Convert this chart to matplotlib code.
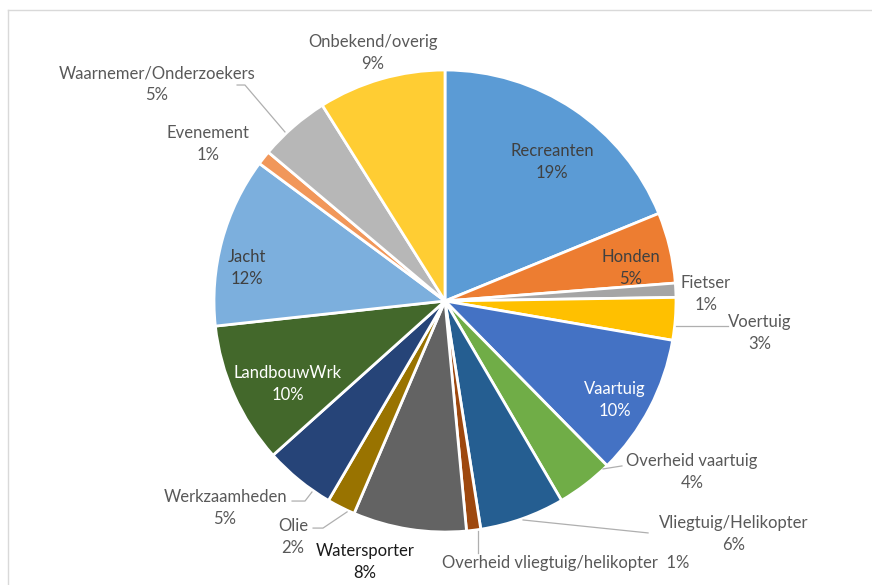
import matplotlib.pyplot as plt
from matplotlib.lines import Line2D

# Meldingen per categorie (percentages)
categories = [
    "Recreanten", "Honden", "Fietser", "Voertuig", "Vaartuig",
    "Overheid vaartuig", "Vliegtuig/Helikopter", "Overheid vliegtuig/helikopter",
    "Watersporter", "Olie", "Werkzaamheden", "LandbouwWrk", "Jacht",
    "Evenement", "Waarnemer/Onderzoekers", "Onbekend/overig",
]
percentages = [19, 5, 1, 3, 10, 4, 6, 1, 8, 2, 5, 10, 12, 1, 5, 9]

colors = [
    "#5B9BD5", "#ED7D31", "#A5A5A5", "#FFC000", "#4472C4",
    "#70AD47", "#255E91", "#9E480E", "#636363", "#997300",
    "#264478", "#43682B", "#7CAFDD", "#F1975A", "#B7B7B7", "#FFCD33",
]
text_colors = [
    "#404040", "#404040", "#595959", "#595959", "white",
    "#595959", "#595959", "#595959", "#1A1A1A", "#595959",
    "#595959", "white", "#404040", "#595959", "#595959", "#595959",
]

# label centres in pie-radius units
label_pos = [
    (0.463, 0.600), (0.805, 0.143), (1.130, 0.030), (1.364, -0.139),
    (0.736, -0.429), (1.069, -0.740), (1.251, -1.009), (0.524, -1.134),
    (-0.346, -1.130), (-0.658, -1.022), (-0.952, -0.896), (-0.680, -0.359),
    (-0.857, 0.143), (-1.026, 0.680), (-1.247, 0.939), (-0.312, 1.074),
]

# leader lines for labels outside the pie
leaders = {
    "Voertuig": [(1.0, -0.108), (1.225, -0.108)],
    "Overheid vaartuig": [(0.684, -0.727), (0.766, -0.714)],
    "Vliegtuig/Helikopter": [(0.338, -0.948), (0.879, -1.004)],
    "Overheid vliegtuig/helikopter": [(0.143, -0.996), (0.143, -1.091)],
    "Olie": [(-0.424, -0.913), (-0.528, -0.983), (-0.571, -0.983)],
    "Werkzaamheden": [(-0.576, -0.827), (-0.606, -0.866), (-0.662, -0.866)],
    "Waarnemer/Onderzoekers": [(-0.693, 0.732), (-0.866, 0.935), (-0.900, 0.935)],
}

plt.rcParams["font.family"] = ["Lato", "DejaVu Sans"]

W, H = 872, 585
CX, CY, R = 445, 301, 231

fig = plt.figure(figsize=(W / 100, H / 100), dpi=100)
ax = fig.add_axes([0, 0, 1, 1])

ax.pie(
    percentages,
    colors=colors,
    startangle=90,
    counterclock=False,
    radius=1,
    wedgeprops=dict(edgecolor="white", linewidth=2),
)
ax.set_aspect("auto")
ax.set_xlim(-CX / R, (W - CX) / R)
ax.set_ylim(-(H - CY) / R, CY / R)
ax.axis("off")

for name, pct, (x, y), tc in zip(categories, percentages, label_pos, text_colors):
    if name == "Overheid vliegtuig/helikopter":
        txt = f"{name}  {pct}%"
    else:
        txt = f"{name}\n{pct}%"
    ax.text(x, y, txt, ha="center", va="center", fontsize=12,
            color=tc, linespacing=1.45)

for name, pts in leaders.items():
    xs = [p[0] for p in pts]
    ys = [p[1] for p in pts]
    ax.plot(xs, ys, color="#AFAFAF", linewidth=0.9)

# chart area border
fig.add_artist(Line2D([8 / W, 1], [1 - 10 / H, 1 - 10 / H],
                      transform=fig.transFigure, color="#D9D9D9", linewidth=1))
fig.add_artist(Line2D([8 / W, 8 / W], [0, 1 - 10 / H],
                      transform=fig.transFigure, color="#D9D9D9", linewidth=1))

fig.savefig("out.png", dpi=100, facecolor="white")
